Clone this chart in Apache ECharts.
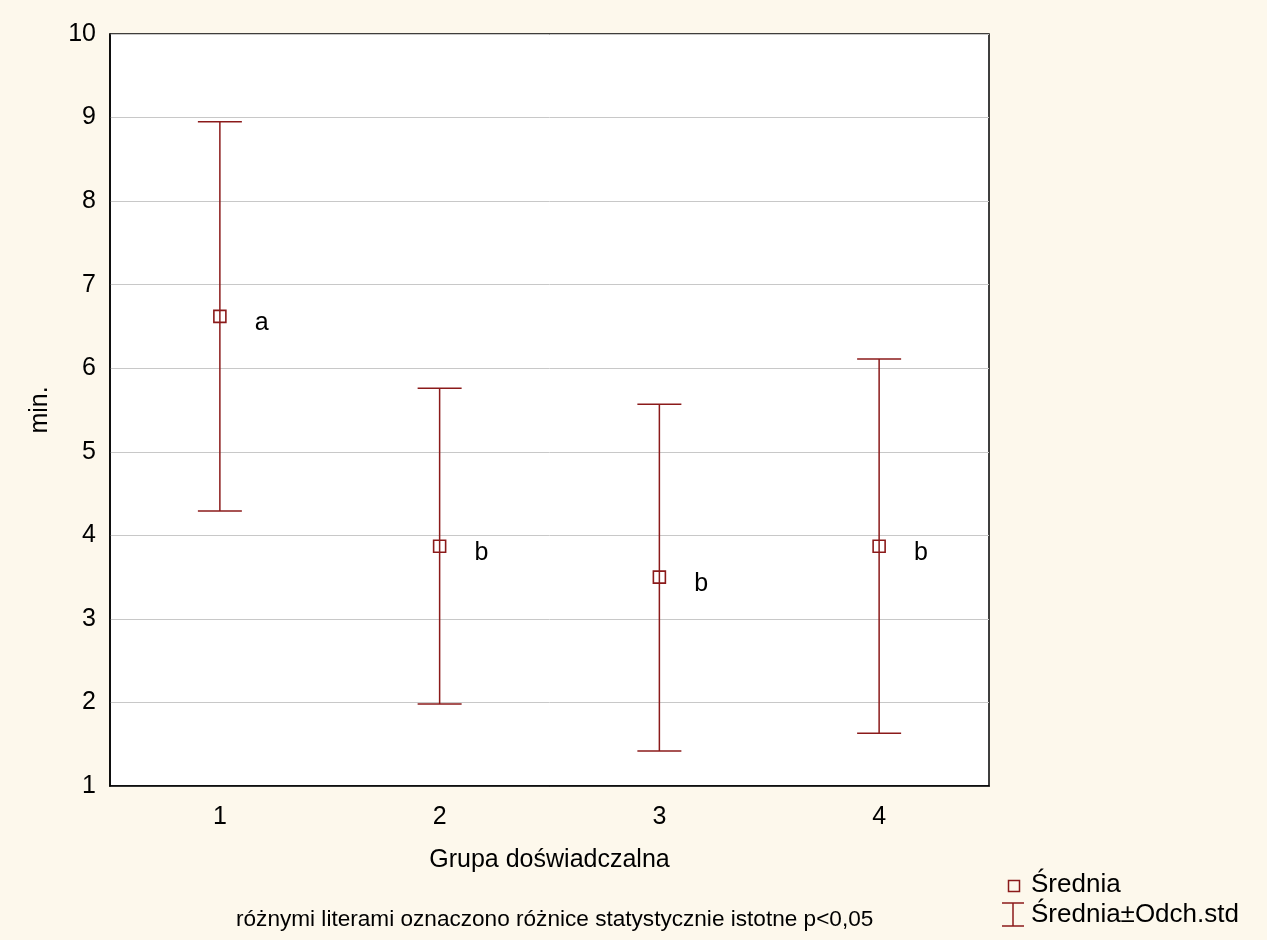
<!DOCTYPE html>
<html>
<head>
<meta charset="utf-8">
<script src="https://cdn.jsdelivr.net/npm/echarts@6/dist/echarts.min.js"></script>
<style>
  html, body { margin: 0; padding: 0; background: #fdf8ec; }
  #chart { width: 1267px; height: 940px; }
</style>
</head>
<body>
<div id="chart"></div>
<script>
// groups and values
const groups = ["1", "2", "3", "4"]
const means = [6.62, 3.87, 3.5, 3.87]
const upper = [8.95, 5.76, 5.57, 6.11]
const lower = [4.29, 1.98, 1.42, 1.63]
const letters = ["a", "b", "b", "b"]
const yTicks = [1, 2, 3, 4, 5, 6, 7, 8, 9, 10]

const red = "#8b1a1a"
const font = "Liberation Sans, Arial, sans-serif"

const chart = echarts.init(document.getElementById("chart"))

const option = {
  backgroundColor: "#fdf8ec",
  animation: false,
  grid: {
    left: 110,
    right: 278,
    top: 34,
    bottom: 154,
    show: true,
    backgroundColor: "#ffffff",
    borderColor: "#000",
    borderWidth: 1.5,
  },
  xAxis: {
    type: "category",
    data: groups,
    boundaryGap: true,
    name: "Grupa doświadczalna",
    nameLocation: "middle",
    nameGap: 62,
    nameTextStyle: { fontFamily: font, fontSize: 25, color: "#000" },
    axisLine: { lineStyle: { color: "#000", width: 1.5 } },
    axisTick: { inside: true, length: 5, alignWithLabel: true, interval: 0, lineStyle: { color: "#000" } },
    axisLabel: { fontFamily: font, fontSize: 25, color: "#000", margin: 19 },
    splitLine: { show: false },
  },
  yAxis: {
    type: "value",
    min: yTicks[0],
    max: yTicks[yTicks.length - 1],
    interval: 1,
    name: "min.",
    nameLocation: "middle",
    nameGap: 57,
    nameRotate: 90,
    nameTextStyle: { fontFamily: font, fontSize: 25, color: "#000" },
    axisLine: { show: true, lineStyle: { color: "#000", width: 1.5 } },
    axisTick: { show: false },
    axisLabel: { fontFamily: font, fontSize: 25, color: "#000", margin: 14 },
    splitLine: { lineStyle: { color: "#c8c8c8", width: 1 } },
  },
  series: [
    {
      name: "Średnia±Odch.std",
      type: "custom",
      data: groups.map((g, i) => [i, lower[i], upper[i]]),
      renderItem: (params, api) => {
        const lo = api.coord([api.value(0), api.value(1)])
        const hi = api.coord([api.value(0), api.value(2)])
        const half = 22
        const style = { stroke: red, lineWidth: 1.5 }
        return {
          type: "group",
          children: [
            { type: "line", shape: { x1: lo[0], y1: lo[1], x2: hi[0], y2: hi[1] }, style },
            { type: "line", shape: { x1: hi[0] - half, y1: hi[1], x2: hi[0] + half, y2: hi[1] }, style },
            { type: "line", shape: { x1: lo[0] - half, y1: lo[1], x2: lo[0] + half, y2: lo[1] }, style },
          ],
        }
      },
      z: 2,
    },
    {
      name: "Średnia",
      type: "scatter",
      data: means.map((m, i) => [i, m]),
      symbol: "rect",
      symbolSize: 12,
      itemStyle: { color: "rgba(255,255,255,0)", borderColor: red, borderWidth: 1.6, opacity: 1 },
      label: {
        show: true,
        position: "right",
        distance: 28,
        offset: [0, 7],
        formatter: (p) => letters[p.dataIndex],
        fontFamily: font,
        fontSize: 25,
        color: "#000000",
        opacity: 1,
        textBorderWidth: 0,
      },
      z: 3,
    },
  ],
  graphic: [
    // legend
    { type: "rect", left: 1006, top: 878, shape: { width: 11, height: 11 }, style: { fill: "none", stroke: red, lineWidth: 1.5 } },
    { type: "text", left: 1031, top: 872, style: { text: "Średnia", font: "26px " + font, fill: "#000" } },
    { type: "line", shape: { x1: 1013, y1: 903, x2: 1013, y2: 926 }, style: { stroke: red, lineWidth: 1.5 } },
    { type: "line", shape: { x1: 1002, y1: 903, x2: 1024, y2: 903 }, style: { stroke: red, lineWidth: 1.5 } },
    { type: "line", shape: { x1: 1002, y1: 926, x2: 1024, y2: 926 }, style: { stroke: red, lineWidth: 1.5 } },
    { type: "text", left: 1031, top: 902, style: { text: "Średnia±Odch.std", font: "26px " + font, fill: "#000" } },
    // footnote
    {
      type: "text",
      left: 236,
      top: 908,
      style: { text: "różnymi literami oznaczono różnice statystycznie istotne p<0,05", font: "22.6px " + font, fill: "#000" },
    },
  ],
}

chart.setOption(option)
window.addEventListener("resize", () => chart.resize())
</script>
</body>
</html>
